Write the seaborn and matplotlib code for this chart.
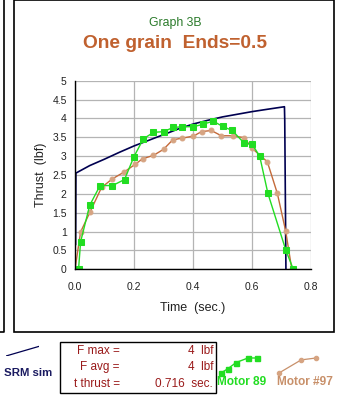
import numpy as np
import pandas as pd
import matplotlib
matplotlib.use("Agg")
import matplotlib.pyplot as plt
from matplotlib.lines import Line2D
import seaborn as sns

# simulert skyvekraft (SRM sim)
sim_tid = [0.002, 0.003, 0.05, 0.10, 0.15, 0.20, 0.25, 0.30, 0.35, 0.40, 0.45,
           0.50, 0.55, 0.60, 0.65, 0.710, 0.711, 0.715]
sim_kraft = [0.65, 2.55, 2.75, 2.92, 3.10, 3.27, 3.42, 3.57, 3.72, 3.85, 3.95,
             4.04, 4.11, 4.18, 4.24, 4.31, 3.95, 0.0]

# Motor 89 (maalt)
m89_tid = [0.012, 0.019, 0.050, 0.085, 0.127, 0.168, 0.200, 0.232, 0.266, 0.300,
           0.333, 0.364, 0.400, 0.433, 0.468, 0.500, 0.533, 0.574, 0.600, 0.626,
           0.654, 0.715, 0.740]
m89_kraft = [0.0, 0.73, 1.70, 2.22, 2.22, 2.38, 2.99, 3.46, 3.63, 3.65,
             3.76, 3.78, 3.78, 3.84, 3.93, 3.79, 3.68, 3.34, 3.32, 3.00,
             2.01, 0.50, 0.0]

# Motor #97 (maalt)
m97_tid = [0.0, 0.019, 0.051, 0.090, 0.127, 0.167, 0.205, 0.229, 0.266, 0.300,
           0.331, 0.364, 0.401, 0.429, 0.462, 0.496, 0.534, 0.574, 0.600, 0.652,
           0.686, 0.714, 0.735]
m97_kraft = [0.0, 0.99, 1.52, 2.17, 2.40, 2.58, 2.79, 2.93, 3.02, 3.18,
             3.43, 3.48, 3.53, 3.65, 3.68, 3.54, 3.54, 3.49, 3.21, 2.85,
             2.01, 1.02, 0.0]

x_ticks = [0.0, 0.2, 0.4, 0.6, 0.8]
y_ticks = [0, 0.5, 1, 1.5, 2, 2.5, 3, 3.5, 4, 4.5, 5]

# tekst i boksen under grafen
boks_navn = ["F max =", "F avg =", "t thrust ="]
boks_verdi = ["4  lbf", "4  lbf", "0.716  sec."]

# former paa forklaringssymbolene (egne smaa akser)
leg_sim_x, leg_sim_y = [0, 1], [0, 0.35]
leg_89_x, leg_89_y = [0, 0.2, 0.42, 0.75, 1.0], [0, 0.12, 0.28, 0.4, 0.4]
leg_97_x, leg_97_y = [0, 0.6, 1.0], [0, 0.35, 0.4]

NAVY = "#000050"
GRONN = "#22dd22"
ORANSJE = "#c46a3a"
BRUN_PKT = "#d6a482"
TITTEL = "#c0612f"
ROD = "#9a1a1a"

sns.set_style("white")
plt.rcParams["font.family"] = ["Liberation Sans", "DejaVu Sans"]

fig = plt.figure(figsize=(3.52, 4.0), dpi=100)
fig.patch.set_facecolor("white")

# rammer rundt diagrammet
fig.add_artist(plt.Rectangle((14 / 352, 1 - 332 / 400), 320 / 352, 332 / 400,
                             transform=fig.transFigure, fill=False, ec="black", lw=1.2))
fig.add_artist(Line2D([4 / 352, 4 / 352, 0], [1, 1 - 332 / 400, 1 - 332 / 400],
                      transform=fig.transFigure, color="black", lw=1.2))

fig.text(0.497, 1 - 23 / 400, "Graph 3B", color="#2a7a2a", fontsize=8.8,
         ha="center", va="center")
fig.text(0.497, 1 - 43 / 400, "One grain  Ends=0.5", color=TITTEL, fontsize=13.8,
         fontweight="bold", ha="center", va="center")

ax = fig.add_axes([75 / 352, 1 - 269.3 / 400, 236 / 352, 188.6 / 400])
df_sim = pd.DataFrame({"t": sim_tid, "F": sim_kraft})
df_89 = pd.DataFrame({"t": m89_tid, "F": m89_kraft})
df_97 = pd.DataFrame({"t": m97_tid, "F": m97_kraft})

sns.lineplot(data=df_sim, x="t", y="F", ax=ax, color=NAVY, lw=1.2,
             sort=False, estimator=None)
sns.lineplot(data=df_97, x="t", y="F", ax=ax, color=ORANSJE, lw=1.0,
             sort=False, estimator=None, marker="o", markersize=3.5,
             markerfacecolor=BRUN_PKT, markeredgecolor=BRUN_PKT)
sns.lineplot(data=df_89, x="t", y="F", ax=ax, color=GRONN, lw=1.0,
             sort=False, estimator=None, marker="s", markersize=4.8,
             markerfacecolor=GRONN, markeredgecolor=GRONN)

ax.set_xlim(0, 0.8)
ax.set_ylim(0, 5)
ax.set_xticks(x_ticks)
ax.set_xticklabels([f"{v:.1f}" for v in x_ticks])
ax.set_yticks(y_ticks)
ax.set_yticklabels([f"{v:g}" for v in y_ticks])
ax.grid(True, color="#b4b4b4", lw=0.9)
ax.set_axisbelow(True)
for s in ["top", "right"]:
    ax.spines[s].set_visible(False)
for s in ["left", "bottom"]:
    ax.spines[s].set_color("black")
    ax.spines[s].set_linewidth(1.0)
ax.tick_params(axis="both", direction="out", length=3, width=0.8, color="#555555",
               labelsize=7.5, pad=3, labelcolor="#222222")
ax.tick_params(axis="x", pad=6)
ax.set_xlabel("Time  (sec.)", fontsize=9, labelpad=7, color="#222222")
ax.set_ylabel("Thrust  (lbf)", fontsize=9, labelpad=4, color="#222222")

# forklaring under diagrammet
def sym_akse(x0, y0, b, h):
    a = fig.add_axes([x0 / 352, 1 - (y0 + h) / 400, b / 352, h / 400])
    a.set_xlim(0, 1)
    a.set_ylim(0, 0.4)
    a.axis("off")
    return a

a1 = sym_akse(6, 345, 33, 11)
a1.plot(leg_sim_x, leg_sim_y, color=NAVY, lw=0.9)
fig.text(4 / 352, 1 - 373 / 400, "SRM sim", color="#1a1a60", fontsize=8.2,
         fontweight="bold", va="center")

fig.add_artist(plt.Rectangle((60 / 352, 1 - 392.5 / 400), 156 / 352, 51 / 400,
                             transform=fig.transFigure, fill=False, ec="black", lw=1.0))
for i, (n, v) in enumerate(zip(boks_navn, boks_verdi)):
    yy = 1 - (351 + i * 16.3) / 400
    fig.text(120 / 352, yy, n, color=ROD, fontsize=8.5, ha="right", va="center")
    fig.text(213 / 352, yy, v, color=ROD, fontsize=8.5, ha="right", va="center")

a2 = sym_akse(221, 358, 36, 15)
a2.plot(leg_89_x, leg_89_y, color=GRONN, lw=1.0, marker="s", markersize=3.6,
        markerfacecolor=GRONN, markeredgecolor=GRONN, clip_on=False)
fig.text(217 / 352, 1 - 382 / 400, "Motor 89", color=GRONN, fontsize=8.6,
         fontweight="bold", va="center")

a3 = sym_akse(279, 358, 37, 15)
a3.plot(leg_97_x, leg_97_y, color="#c8906a", lw=0.9, marker="o", markersize=3,
        markerfacecolor=BRUN_PKT, markeredgecolor=BRUN_PKT, clip_on=False)
fig.text(277 / 352, 1 - 382 / 400, "Motor #97", color="#c8906a", fontsize=8.6,
         fontweight="bold", va="center")

fig.savefig("out.png", dpi=100, facecolor="white")
